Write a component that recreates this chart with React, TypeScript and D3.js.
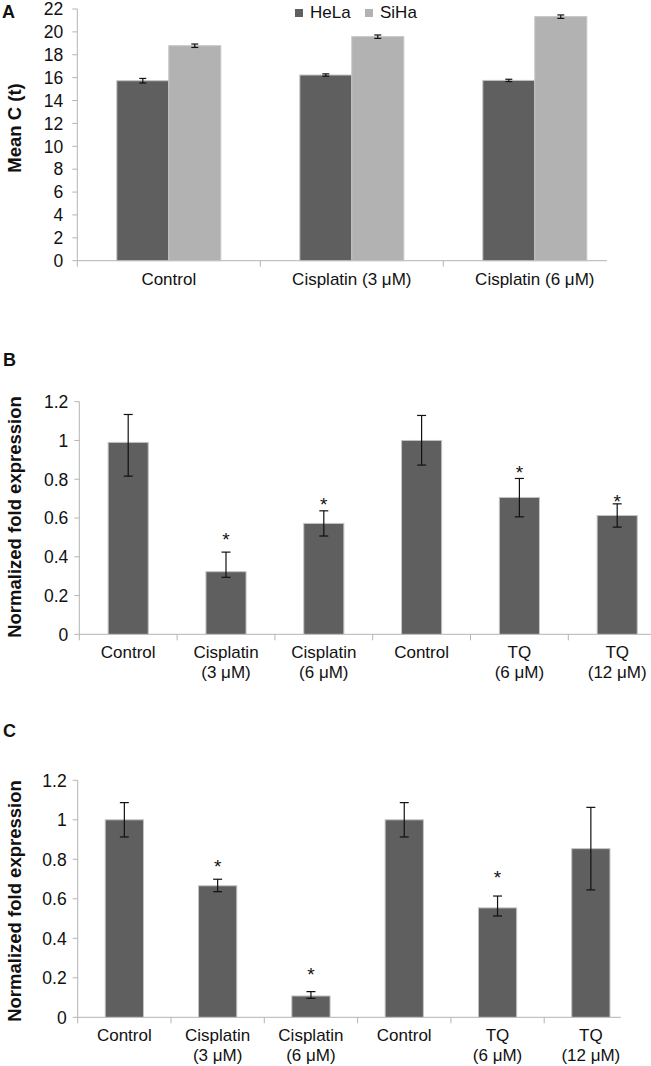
import React from "react";
import * as d3 from "d3";

// ---------- Panel A data ----------
const catsA = ["Control", "Cisplatin (3 μM)", "Cisplatin (6 μM)"];
const seriesA = ["HeLa", "SiHa"];
const helaA = [15.73, 16.23, 15.76];
const sihaA = [18.79, 19.58, 21.33];
const helaErrA = [0.2, 0.1, 0.1];
const sihaErrA = [0.15, 0.15, 0.15];
const ticksA = [0, 2, 4, 6, 8, 10, 12, 14, 16, 18, 20, 22];

// ---------- Panel B data ----------
const catsBC = [
  ["Control"],
  ["Cisplatin", "(3 μM)"],
  ["Cisplatin", "(6 μM)"],
  ["Control"],
  ["TQ", "(6 μM)"],
  ["TQ", "(12 μM)"],
];
const valuesB = [0.99, 0.323, 0.572, 1.0, 0.706, 0.613];
const errUpB = [0.144, 0.101, 0.065, 0.129, 0.098, 0.06];
const errDownB = [0.174, 0.029, 0.065, 0.127, 0.1, 0.06];
const starsB: (number | null)[] = [null, 0.512, 0.693, null, 0.858, 0.709];

// ---------- Panel C data ----------
const valuesC = [1.0, 0.666, 0.108, 1.0, 0.554, 0.854];
const errUpC = [0.087, 0.033, 0.022, 0.087, 0.06, 0.209];
const errDownC = [0.087, 0.03, 0.012, 0.087, 0.041, 0.209];
const starsC: (number | null)[] = [null, 0.788, 0.239, null, 0.729, null];

const ticksBC = [0, 0.2, 0.4, 0.6, 0.8, 1, 1.2];

const FONT = "'Liberation Sans', Arial, Helvetica, sans-serif";
const DARK = "#5f5f5f";
const LIGHT = "#b2b2b2";
const AXIS = "#b4b4b4";
const BAR_STROKE = "#c4c4c4";

function YAxis({ y, x0, ticks, gap, tickLen }: any) {
  const [r0, r1] = y.range();
  return (
    <g>
      <line x1={x0} x2={x0} y1={r0} y2={r1} stroke={AXIS} strokeWidth={1} />
      {ticks.map((t: number) => (
        <g key={t}>
          <line x1={x0 - tickLen} x2={x0} y1={y(t)} y2={y(t)} stroke={AXIS} strokeWidth={1} />
          <text
            x={x0 - gap}
            y={y(t)}
            dy="0.36em"
            textAnchor="end"
            fontSize={17.5}
            fontFamily={FONT}
            fill="#111"
          >
            {String(t)}
          </text>
        </g>
      ))}
    </g>
  );
}

function XAxisLine({ x, yBase, xEnd }: any) {
  const [r0] = x.range();
  const bounds = [r0, ...x.domain().map((d: any) => x(d) + x.bandwidth())].filter(
    (b: number) => b <= xEnd + 0.5
  );
  return (
    <g>
      <line x1={r0} x2={xEnd} y1={yBase} y2={yBase} stroke={AXIS} strokeWidth={1} />
      {bounds.map((b: number, i: number) => (
        <line key={i} x1={b} x2={b} y1={yBase} y2={yBase + 6} stroke={AXIS} strokeWidth={1} />
      ))}
    </g>
  );
}

function ErrorBar({ cx, yTop, yBot, cap }: any) {
  return (
    <g stroke="#111" strokeWidth={1.2}>
      <line x1={cx} x2={cx} y1={yTop} y2={yBot} />
      <line x1={cx - cap / 2} x2={cx + cap / 2} y1={yTop} y2={yTop} />
      <line x1={cx - cap / 2} x2={cx + cap / 2} y1={yBot} y2={yBot} />
    </g>
  );
}

function YTitle({ x, y, text }: any) {
  return (
    <text
      transform={`translate(${x},${y}) rotate(-90)`}
      textAnchor="middle"
      fontSize={18.5}
      fontWeight="bold"
      fontFamily={FONT}
      fill="#111"
    >
      {text}
    </text>
  );
}

function PanelLetter({ x, y, text }: any) {
  return (
    <text x={x} y={y} fontSize={18} fontWeight="bold" fontFamily={FONT} fill="#111">
      {text}
    </text>
  );
}

function PanelA() {
  const left = 77.3;
  const y = d3.scaleLinear().domain([0, 22]).range([260.7, 9]);
  const x0 = d3
    .scaleBand<string>()
    .domain(catsA)
    .range([left, left + 3 * 183])
    .padding(0);
  const x1 = d3
    .scaleBand<string>()
    .domain(seriesA)
    .range([0, x0.bandwidth()])
    .paddingInner(0)
    .paddingOuter(0.76);
  const vals = [helaA, sihaA];
  const errs = [helaErrA, sihaErrA];
  const cols = [DARK, LIGHT];
  return (
    <g>
      <PanelLetter x={2} y={18} text="A" />
      <YTitle x={21} y={128} text="Mean C (t)" />
      <YAxis y={y} x0={left} ticks={ticksA} gap={14} tickLen={5} />
      <XAxisLine x={x0} yBase={y(0)} xEnd={607} />
      {catsA.map((c, i) =>
        seriesA.map((s, j) => {
          const bx = (x0(c) as number) + (x1(s) as number);
          const v = vals[j][i];
          const e = errs[j][i];
          return (
            <g key={c + s}>
              <rect
                x={bx}
                y={y(v)}
                width={x1.bandwidth()}
                height={y(0) - y(v)}
                fill={cols[j]}
                stroke={BAR_STROKE}
                strokeWidth={1}
              />
              <ErrorBar cx={bx + x1.bandwidth() / 2} yTop={y(v + e)} yBot={y(v - e)} cap={7} />
            </g>
          );
        })
      )}
      {catsA.map((c) => (
        <text
          key={c}
          x={(x0(c) as number) + x0.bandwidth() / 2}
          y={285}
          textAnchor="middle"
          fontSize={17}
          fontFamily={FONT}
          fill="#111"
        >
          {c}
        </text>
      ))}
      {/* legend */}
      {seriesA.map((s, j) => {
        const lx = 295 + j * 70;
        return (
          <g key={s}>
            <rect x={lx} y={9} width={8} height={8} fill={cols[j]} />
            <text x={lx + 15} y={18} fontSize={17} fontFamily={FONT} fill="#111">
              {s}
            </text>
          </g>
        );
      })}
    </g>
  );
}

function PanelBC({
  letter,
  letterY,
  left,
  top,
  bottom,
  step,
  xEnd,
  values,
  errUp,
  errDown,
  stars,
  labelY,
  titleY,
}: any) {
  const y = d3.scaleLinear().domain([0, 1.2]).range([bottom, top]);
  const names = catsBC.map((c, i) => String(i));
  const x = d3
    .scaleBand<string>()
    .domain(names)
    .range([left, left + 6 * step])
    .padding(0);
  const bw = x.bandwidth() * 0.41;
  return (
    <g>
      <PanelLetter x={3} y={letterY} text={letter} />
      <YTitle x={21} y={titleY} text="Normalized fold expression" />
      <YAxis y={y} x0={left} ticks={ticksBC} gap={11} tickLen={5} />
      <XAxisLine x={x} yBase={y(0)} xEnd={xEnd} />
      {values.map((v: number, i: number) => {
        const cx = (x(names[i]) as number) + x.bandwidth() / 2;
        const s = stars[i];
        return (
          <g key={i}>
            <rect
              x={cx - bw / 2}
              y={y(v)}
              width={bw}
              height={y(0) - y(v)}
              fill={DARK}
              stroke={BAR_STROKE}
              strokeWidth={1}
            />
            <ErrorBar cx={cx} yTop={y(v + errUp[i])} yBot={y(v - errDown[i])} cap={9} />
            {s !== null && (
              <text
                x={cx}
                y={y(s) + 11}
                textAnchor="middle"
                fontSize={19}
                fontFamily={FONT}
                fill="#111"
              >
                *
              </text>
            )}
          </g>
        );
      })}
      {catsBC.map((lines, i) => (
        <text
          key={i}
          x={(x(names[i]) as number) + x.bandwidth() / 2}
          y={labelY}
          textAnchor="middle"
          fontSize={17}
          fontFamily={FONT}
          fill="#111"
        >
          {lines.map((l, k) => (
            <tspan key={k} x={(x(names[i]) as number) + x.bandwidth() / 2} dy={k === 0 ? 0 : 19.5}>
              {l}
            </tspan>
          ))}
        </text>
      ))}
    </g>
  );
}

export default function App() {
  return (
    <div style={{ position: "absolute", left: 0, top: 0 }}>
      <svg width={651} height={1066} style={{ display: "block", background: "#fff" }}>
        <rect width={651} height={1066} fill="#fff" />
        <PanelA />
        <PanelBC
          letter="B"
          letterY={366}
          left={79.3}
          top={401.7}
          bottom={634.3}
          step={97.8}
          xEnd={651}
          values={valuesB}
          errUp={errUpB}
          errDown={errDownB}
          stars={starsB}
          labelY={658}
          titleY={517}
        />
        <PanelBC
          letter="C"
          letterY={737}
          left={77.7}
          top={780.3}
          bottom={1017.3}
          step={93.3}
          xEnd={621}
          values={valuesC}
          errUp={errUpC}
          errDown={errDownC}
          stars={starsC}
          labelY={1041}
          titleY={901}
        />
      </svg>
    </div>
  );
}
